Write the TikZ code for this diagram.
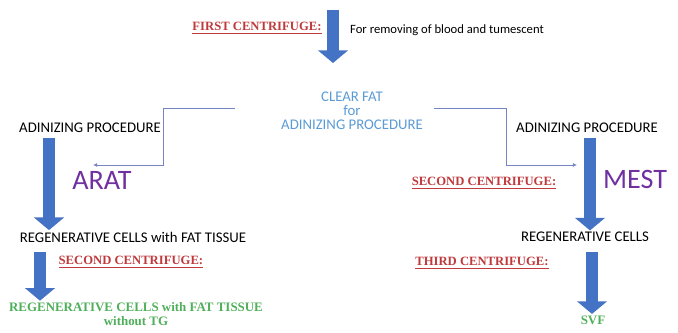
\documentclass[tikz,border=0pt]{standalone}
\usepackage{fontspec}
\setmainfont{Carlito}
\newfontfamily\serifcap{Liberation Serif}
\usepackage{xcolor}
\usetikzlibrary{arrows.meta, positioning}

\definecolor{arrowblue}{HTML}{4472C4}
\definecolor{centrred}{HTML}{C0393B}
\definecolor{procpurple}{HTML}{7030A0}
\definecolor{fatgreen}{HTML}{4FAF5A}
\definecolor{clearblue}{HTML}{5B9BD5}
\definecolor{linkblue}{HTML}{7585C4}

\begin{document}
\begin{tikzpicture}[x=0.025cm, y=-0.025cm,
    every node/.style={inner sep=1pt, font=\fontsize{10.5}{10}\selectfont},
    centr/.style={font=\serifcap\bfseries\fontsize{9}{11}\selectfont, text=centrred},
    method/.style={font=\fontsize{20}{24}\selectfont, text=procpurple},
    result/.style={font=\serifcap\bfseries\fontsize{9.2}{10}\selectfont, text=fatgreen, align=center},
    fat/.style={draw=arrowblue, line width=8pt, -{Triangle[width=21pt, length=9pt]}},
    link/.style={draw=linkblue, line width=0.7pt, -{Latex[length=3pt, width=3pt]}}]
    \useasboundingbox (0,0) rectangle (678,333);

    % Top
    \node[centr] (first) at (257,28) {\underline{FIRST CENTRIFUGE:}};
    \node[font=\fontsize{9}{11}\selectfont] (remove) at (447,30) {For removing of blood and tumescent};
    \node[text=clearblue, align=center] (clear) at (352,111) {CLEAR FAT\\for\\ADINIZING PROCEDURE};
    \coordinate (topA) at (333,10);
    \coordinate (topB) at (333,63);
    \draw[fat] (topA) -- (topB);

    % Left branch
    \node (adinL) at (90,128) {ADINIZING PROCEDURE};
    \node[method] (arat) at (102,180) {ARAT};
    \node (regL) at (133,237) {REGENERATIVE CELLS with FAT TISSUE};
    \node[centr, anchor=west] (secondL) at (57,262) {\underline{SECOND CENTRIFUGE:}};
    \node[result] (finL) at (136,314) {REGENERATIVE CELLS with FAT TISSUE\\without TG};
    \coordinate (axL) at (49,0);
    \coordinate (axL2) at (40,0);
    \coordinate (tipL) at (93,165);

    % Right branch
    \node (adinR) at (587,128) {ADINIZING PROCEDURE};
    \node[method] (mest) at (635,179) {MEST};
    \node[centr] (secondR) at (484,183) {\underline{SECOND CENTRIFUGE:}};
    \node (regR) at (585,237) {REGENERATIVE CELLS};
    \node[centr] (third) at (482,263) {\underline{THIRD CENTRIFUGE:}};
    \node[result] (svf) at (593,320) {SVF};
    \coordinate (axR) at (590,0);
    \coordinate (axR2) at (592,0);
    \coordinate (tipR) at (577,165);

    % Thin connectors
    \draw[link] (clear.west) ++(-45,-3) -- ++(-71,0) |- (tipL);
    \draw[link] (clear.east) ++(10,-3) -- ++(72,0) |- (tipR);

    % Big arrows
    \draw[fat] (axL |- adinL.south) ++(0,3) -- (axL |- regL.north);
    \draw[fat] (axL2 |- regL.south) ++(0,8) -- (axL2 |- finL.north);
    \draw[fat] (axR |- adinR.south) ++(0,3) -- (axR |- regR.north);
    \draw[fat] (axR2 |- regR.south) ++(0,8) -- (axR2 |- svf.north);
\end{tikzpicture}
\end{document}
